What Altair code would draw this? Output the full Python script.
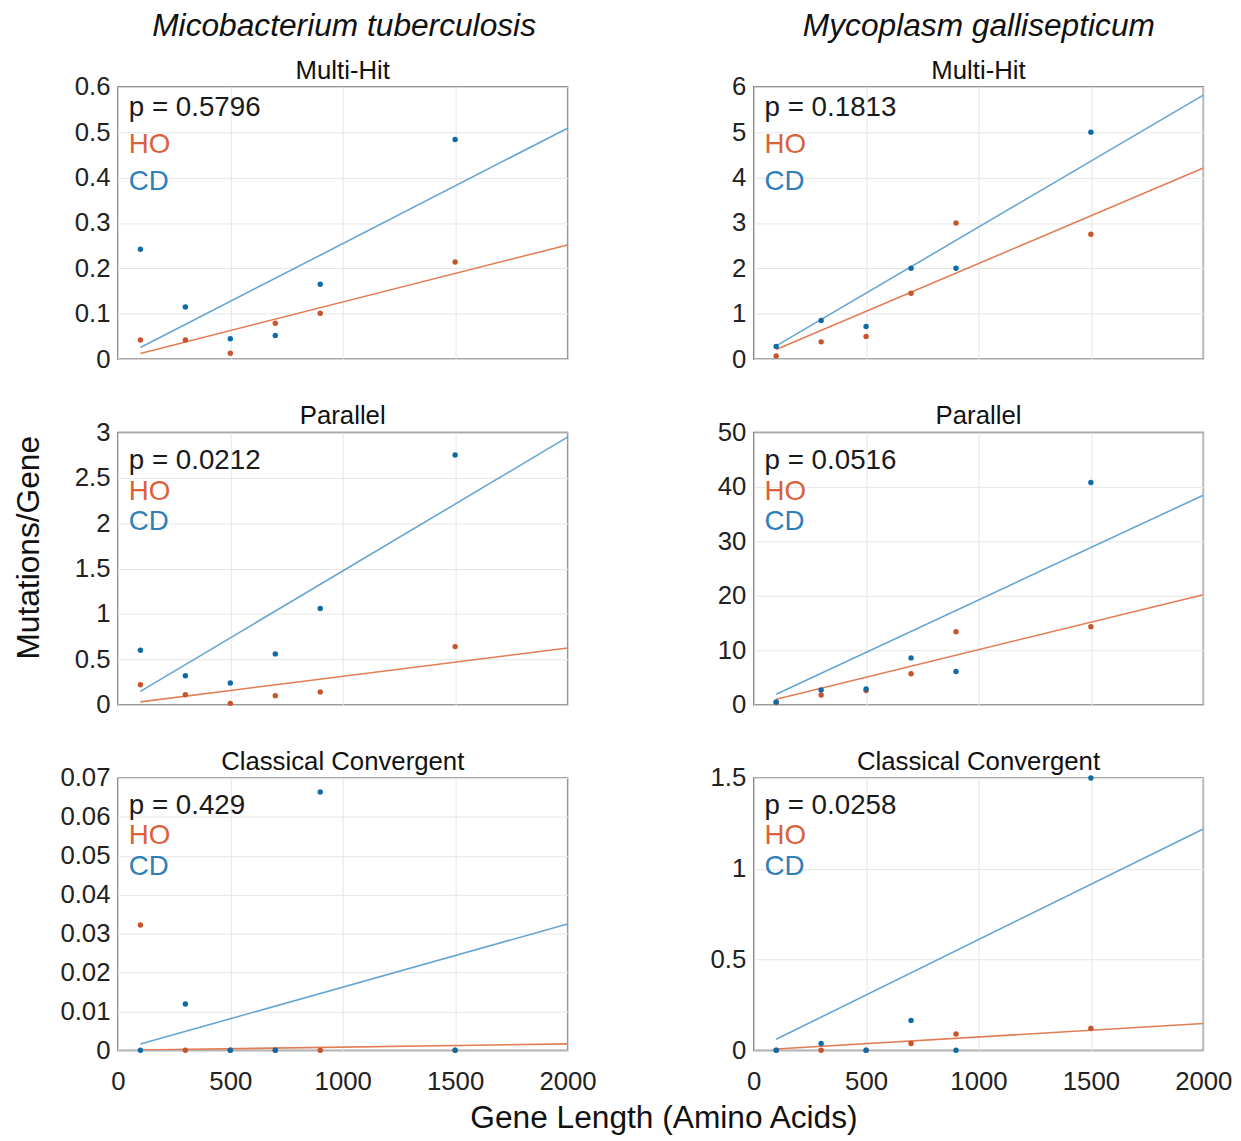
import altair as alt
import pandas as pd
import numpy as np

# ---------------- data ----------------
gene_length = [100, 300, 500, 700, 900, 1500]
fit_x_range = [100, 2000]          # fitted lines drawn over this span
x_ticks = [0, 500, 1000, 1500, 2000]

row_titles = ["Multi-Hit", "Parallel", "Classical Convergent"]
col_titles = ["Micobacterium tuberculosis", "Mycoplasm gallisepticum"]

# Micobacterium tuberculosis
mtb_multi_ho = [0.042, 0.042, 0.013, 0.079, 0.101, 0.214]
mtb_multi_cd = [0.242, 0.115, 0.045, 0.052, 0.165, 0.484]
mtb_par_ho = [0.22, 0.11, 0.015, 0.10, 0.14, 0.64]
mtb_par_cd = [0.60, 0.32, 0.24, 0.56, 1.06, 2.75]
mtb_cc_ho = [0.0322, 0.0, 0.0, 0.0, 0.0, 0.0]
mtb_cc_cd = [0.0, 0.0119, 0.0, 0.0, 0.0664, 0.0]

# Mycoplasm gallisepticum
mg_multi_ho = [0.07, 0.38, 0.50, 1.45, 3.0, 2.75]
mg_multi_cd = [0.28, 0.85, 0.72, 2.0, 2.0, 5.0]
mg_par_ho = [0.4, 1.8, 2.6, 5.7, 13.4, 14.3]
mg_par_cd = [0.5, 2.7, 2.9, 8.6, 6.1, 40.8]
mg_cc_ho = [0.0, 0.0, 0.0, 0.038, 0.09, 0.12]
mg_cc_cd = [0.0, 0.038, 0.0, 0.165, 0.0, 1.5]

p_values = [["p = 0.5796", "p = 0.0212", "p = 0.429"],
            ["p = 0.1813", "p = 0.0516", "p = 0.0258"]]

y_ticks = [
    [[0, 0.1, 0.2, 0.3, 0.4, 0.5, 0.6], [0, 0.5, 1, 1.5, 2, 2.5, 3],
     [0, 0.01, 0.02, 0.03, 0.04, 0.05, 0.06, 0.07]],
    [[0, 1, 2, 3, 4, 5, 6], [0, 10, 20, 30, 40, 50], [0, 0.5, 1, 1.5]],
]

series = [
    [(mtb_multi_ho, mtb_multi_cd), (mtb_par_ho, mtb_par_cd), (mtb_cc_ho, mtb_cc_cd)],
    [(mg_multi_ho, mg_multi_cd), (mg_par_ho, mg_par_cd), (mg_cc_ho, mg_cc_cd)],
]

# ---------------- styling ----------------
FONT = "Liberation Sans"
HO_LINE, CD_LINE = "#e27d55", "#66a5d2"
HO_PT, CD_PT = "#c9532b", "#0f6aa8"
HO_TXT, CD_TXT = "#d9623a", "#2f7fb8"
W, H = 454, 275
LINE_GAP = [37, 31, 31]
P_TOP = [22, 29, 28]
COL_DX = [40, 8]


def panel(ci, ri):
    ho, cd = series[ci][ri]
    ticks = y_ticks[ci][ri]
    ymax = ticks[-1]
    pts = pd.DataFrame({
        "x": gene_length * 2,
        "y": list(ho) + list(cd),
        "s": ["HO"] * len(ho) + ["CD"] * len(cd),
    })
    rows = []
    xs = np.array(gene_length, dtype=float)
    for name, vals in (("HO", ho), ("CD", cd)):
        ys = np.array(vals, dtype=float)
        k = float((xs * ys).sum() / (xs * xs).sum())  # least squares through origin
        for fx in fit_x_range:
            rows.append({"x": fx, "y": k * fx, "s": name})
    fits = pd.DataFrame(rows)

    bottom = ri == 2
    xaxis = alt.Axis(values=x_ticks, labels=bottom, title=None, format="d",
                     labelPadding=19, labelFlush=False)
    ytitle = "Mutations/Gene" if (ci == 0 and ri == 1) else None
    yaxis = alt.Axis(values=ticks, format="~f", title=ytitle,
                     titleFontSize=32, titleFontWeight="normal",
                     titlePadding=29, titleColor="#111", titleY=116)
    xs_ = alt.X("x:Q", scale=alt.Scale(domain=[0, 2000], nice=False), axis=xaxis)
    ys_ = alt.Y("y:Q", scale=alt.Scale(domain=[0, ymax], nice=False), axis=yaxis)

    lines = alt.Chart(fits).mark_line(strokeWidth=1.6, clip=True).encode(
        x=xs_, y=ys_,
        color=alt.Color("s:N", scale=alt.Scale(domain=["HO", "CD"], range=[HO_LINE, CD_LINE]),
                        legend=None),
    )
    points = alt.Chart(pts).mark_circle(size=30, opacity=1).encode(
        x=xs_, y=ys_,
        color=alt.Color("s:N", scale=alt.Scale(domain=["HO", "CD"], range=[HO_PT, CD_PT]),
                        legend=None),
    )
    ann = pd.DataFrame({"t": [p_values[ci][ri]]})
    t0 = P_TOP[ri]
    g = LINE_GAP[ri]
    txt_p = alt.Chart(ann).mark_text(align="left", baseline="middle", fontSize=28,
                                     color="#1a1a1a", font=FONT).encode(
        x=alt.value(11), y=alt.value(t0), text="t:N")
    txt_ho = alt.Chart(ann).mark_text(align="left", baseline="middle", fontSize=28,
                                      color=HO_TXT, font=FONT, text="HO").encode(
        x=alt.value(11), y=alt.value(t0 + g))
    txt_cd = alt.Chart(ann).mark_text(align="left", baseline="middle", fontSize=28,
                                      color=CD_TXT, font=FONT, text="CD").encode(
        x=alt.value(11), y=alt.value(t0 + 2 * g))

    return alt.layer(lines, points, txt_p, txt_ho, txt_cd).resolve_scale(
        color="independent").properties(
        width=W, height=H,
        title=alt.TitleParams(row_titles[ri], fontSize=26, fontWeight="normal",
                              font=FONT, color="#111", offset=-10),
    )


cols = []
for ci in range(2):
    cols.append(alt.vconcat(
        *[panel(ci, ri) for ri in range(3)], spacing=30,
        title=alt.TitleParams(col_titles[ci], fontSize=32, fontStyle="italic",
                              fontWeight="normal", font=FONT, color="#111",
                              anchor="middle", offset=15, dx=COL_DX[ci]),
    ))

chart = alt.hconcat(
    *cols, spacing=113,
    title=alt.TitleParams("Gene Length (Amino Acids)", orient="bottom", fontSize=32,
                          fontWeight="normal", font=FONT, color="#111",
                          anchor="middle", offset=8, dx=42),
).properties(
    padding={"left": 4, "top": -4, "right": 0, "bottom": 0},
).configure(font=FONT).configure_axis(
    grid=True, gridColor="#e6e6e6", gridWidth=1, domain=False, ticks=False,
    labelFontSize=26, labelColor="#222", labelFont=FONT, labelPadding=8,
).configure_view(stroke="#505050", strokeWidth=1.4)

chart.save("out.html", embed_options={"renderer": "svg", "actions": False})
